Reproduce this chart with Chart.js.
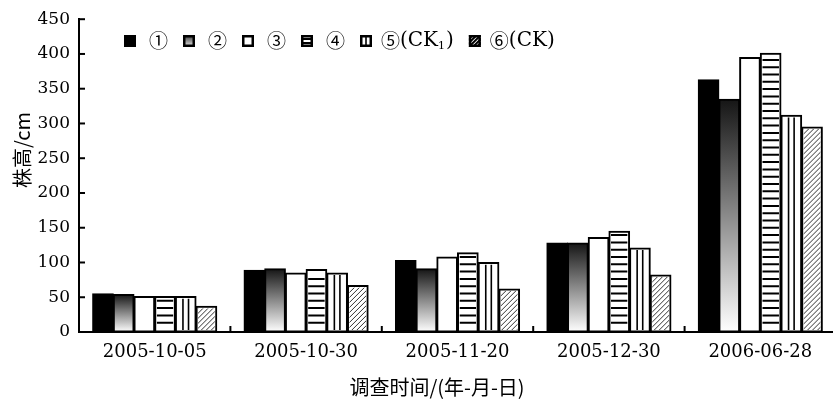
<!DOCTYPE html>
<html>
<head>
<meta charset="utf-8">
<script src="https://cdn.jsdelivr.net/npm/chart.js@4"></script>
<style>
  html, body { margin: 0; padding: 0; background: #fff; overflow: hidden; }
  #wrap { width: 833px; height: 401px; overflow: hidden; position: relative; }
  canvas { display: block; }
</style>
</head>
<body>
<div id="wrap"><canvas id="chart" width="837" height="401"></canvas></div>
<script>
(function(){
  'use strict';

  // data
  const categories = ['2005-10-05', '2005-10-30', '2005-11-20', '2005-12-30', '2006-06-28'];
  const seriesNames = ['①', '②', '③', '④', '⑤(CK_1)', '⑥(CK)'];
  const s1 = [55, 89, 103, 128, 363];
  const s2 = [54, 91, 91, 128, 335];
  const s3 = [51, 85, 108, 136, 395];
  const s4 = [51, 90, 114, 145, 401];
  const s5 = [51, 85, 100, 121, 312];
  const s6 = [37, 67, 62, 82, 295];
  const yMax = 450, yStep = 50;
  const xTitle = '调查时间/(年-月-日)';
  const yTitle = '株高/cm';

  const SERIF = '"DejaVu Serif", "Liberation Serif", serif';
  const CJK = '"Noto Sans CJK SC", sans-serif';

  function line(ctx, x1, y1, x2, y2){ ctx.beginPath(); ctx.moveTo(x1, y1); ctx.lineTo(x2, y2); ctx.stroke(); }

  // inner pattern of bars 4..6 (and legend boxes)
  function deco(ctx, k, x, y, w, h, small){
    ctx.save();
    ctx.beginPath(); ctx.rect(x, y, w, h); ctx.clip();
    ctx.strokeStyle = '#000';
    if(k === 3){
      ctx.lineWidth = 2;
      const gap = small ? h/3 : 7.3;
      for(let yy = y + h - gap; yy > y + 1; yy -= gap) line(ctx, x, yy, x + w, yy);
    } else if(k === 4){
      ctx.lineWidth = 1.6;
      const n = small ? 2 : 3;
      for(let i = 1; i < n; i++) line(ctx, x + w*i/n, y, x + w*i/n, y + h);
    } else if(k === 5){
      ctx.strokeStyle = small ? '#000' : '#333';
      ctx.lineWidth = small ? 2 : 1;
      const gap = small ? 4 : 5;
      for(let t = -h; t < w + h; t += gap) line(ctx, x + t, y + h, x + t + h, y);
    }
    ctx.restore();
  }

  const fills = ['#000', null, '#fff', '#fff', '#fff', '#fff'];
  function gradFill(c){
    if(c.type !== 'data') return '#777';
    const ys = c.chart.scales.y;
    if(!ys) return '#777';
    const top = ys.getPixelForValue(c.raw), bot = ys.getPixelForValue(0);
    if(!Number.isFinite(top) || !Number.isFinite(bot) || top === bot) return '#777';
    const g = c.chart.ctx.createLinearGradient(0, top, 0, bot);
    g.addColorStop(0, '#151515');
    g.addColorStop(1, '#ffffff');
    return g;
  }

  const barDeco = {
    id: 'barDeco',
    afterDatasetsDraw(chart){
      const ctx = chart.ctx;
      [3, 4, 5].forEach(k=>{
        chart.getDatasetMeta(k).data.forEach(el=>{
          const w = el.width, l = el.x - w/2;
          deco(ctx, k, l + 2, el.y + 2, w - 4, el.base - el.y - 4, false);
        });
      });
    }
  };

  const axisExtras = {
    id: 'axisExtras',
    afterDraw(chart){
      const {ctx, chartArea: a, scales: {x, y}} = chart;
      ctx.save();
      ctx.strokeStyle = '#000'; ctx.lineWidth = 2;
      y.ticks.forEach(t=>{ const py = y.getPixelForValue(t.value); line(ctx, a.left, py, a.left + 6, py); });
      for(let i = 1; i < categories.length; i++){
        const px = (x.getPixelForValue(i - 1) + x.getPixelForValue(i)) / 2;
        line(ctx, px, a.bottom, px, a.bottom - 6);
      }
      // axis titles
      ctx.fillStyle = '#000';
      ctx.textAlign = 'center'; ctx.textBaseline = 'middle';
      ctx.font = '20px ' + CJK;
      ctx.fillText(xTitle, 437, 387);
      ctx.translate(22, 150); ctx.rotate(-Math.PI/2);
      ctx.fillText(yTitle, 0, 0);
      ctx.restore();
    }
  };

  const legendBox = {
    id: 'legendBox',
    afterDraw(chart){
      const ctx = chart.ctx;
      let x = 124; const cy = 41, bs = 12;
      ctx.save();
      ctx.textBaseline = 'middle'; ctx.fillStyle = '#000';
      chart.data.datasets.forEach((ds, k)=>{
        const bx = x, by = cy - bs/2;
        if(k === 1){
          const g = ctx.createLinearGradient(0, by, 0, by + bs);
          g.addColorStop(0, '#333'); g.addColorStop(1, '#eee');
          ctx.fillStyle = g;
        } else ctx.fillStyle = fills[k];
        ctx.fillRect(bx, by, bs, bs);
        deco(ctx, k, bx, by, bs, bs, true);
        ctx.strokeStyle = '#000'; ctx.lineWidth = 2.5;
        ctx.strokeRect(bx + 1.25, by + 1.25, bs - 2.5, bs - 2.5);
        ctx.fillStyle = '#000';
        const name = ds.label;
        let tx = bx + (name.length > 1 ? 21 : 25);
        ctx.font = '19px ' + CJK;
        ctx.fillText(name[0], tx, cy); tx += ctx.measureText(name[0]).width;
        const rest = name.slice(1);
        if(rest){
          const parts = rest.split('_');
          ctx.font = '20px ' + SERIF;
          ctx.fillText(parts[0], tx, cy); tx += ctx.measureText(parts[0]).width;
          if(parts[1]){
            ctx.font = '11px ' + SERIF;
            ctx.fillText(parts[1][0], tx, cy + 5); tx += ctx.measureText(parts[1][0]).width + 1;
            ctx.font = '20px ' + SERIF;
            ctx.fillText(parts[1].slice(1), tx, cy); tx += ctx.measureText(parts[1].slice(1)).width;
          }
        }
        x = tx + 15;
      });
      ctx.restore();
    }
  };

  const series = [s1, s2, s3, s4, s5, s6];
  const ctx = document.getElementById('chart').getContext('2d');
  new Chart(ctx, {
    type: 'bar',
    data: {
      labels: categories,
      datasets: series.map((d, k)=>({
        label: seriesNames[k],
        data: d,
        backgroundColor: k === 1 ? gradFill : fills[k],
        borderColor: '#000',
        borderWidth: 2,
        borderSkipped: false
      }))
    },
    options: {
      responsive: false,
      animation: false,
      devicePixelRatio: 1,
      datasets: { bar: { categoryPercentage: 0.82, barPercentage: 1, inflateAmount: 0.5 } },
      layout: { padding: { top: 12, right: 1, left: 0, bottom: 0 } },
      plugins: { legend: { display: false }, tooltip: { enabled: false } },
      scales: {
        x: {
          offset: true,
          grid: { display: false, drawTicks: false },
          border: { display: true, color: '#000', width: 2 },
          ticks: { color: '#000', font: { family: SERIF, size: 18 }, padding: 10, maxRotation: 0 },
          afterFit: s=>{ s.height = 69; }
        },
        y: {
          min: 0, max: yMax,
          grid: { display: false, drawTicks: false },
          border: { display: true, color: '#000', width: 2 },
          ticks: { stepSize: yStep, color: '#000', font: { family: SERIF, size: 17 }, padding: 9 },
          afterFit: s=>{ s.width = 79; }
        }
      }
    },
    plugins: [barDeco, axisExtras, legendBox]
  });
})();
</script>
</body>
</html>
